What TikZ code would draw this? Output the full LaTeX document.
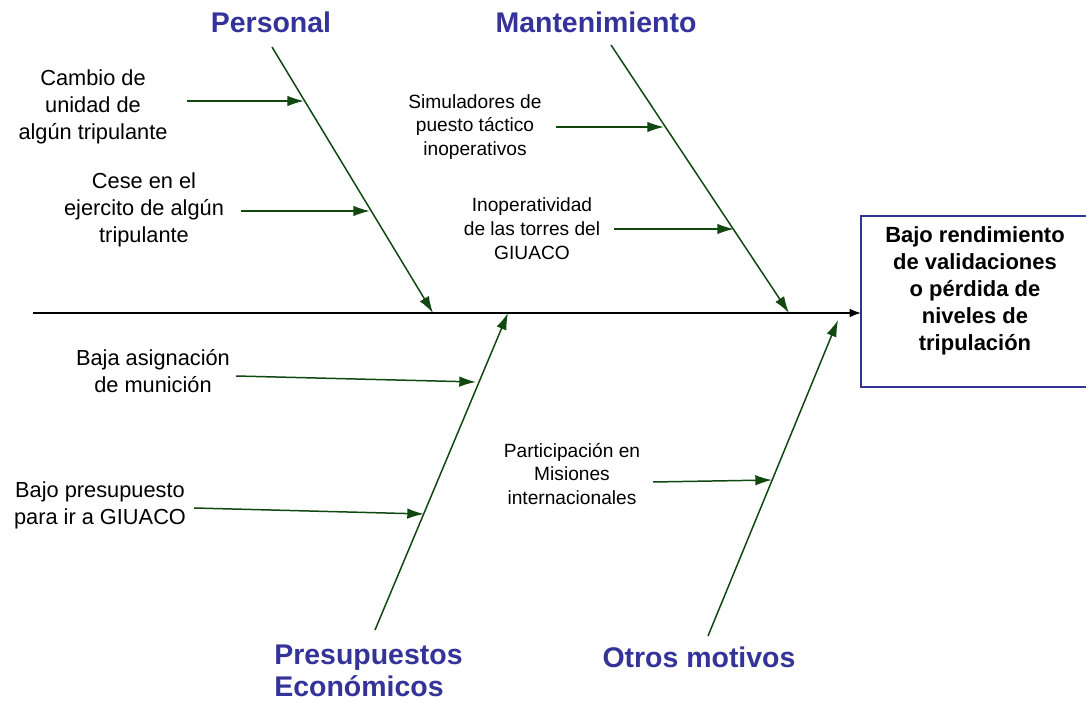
\documentclass[tikz,border=0pt]{standalone}
\usepackage{fontspec}
\setmainfont{Liberation Sans}
\usetikzlibrary{arrows.meta}
\definecolor{bonegreen}{RGB}{16,72,16}
\definecolor{labelblue}{RGB}{51,51,153}
\tikzset{
  bone/.style={draw=bonegreen, line width=0.85pt, -{Latex[length=9.5pt,width=6pt]}},
  sub/.style={draw=bonegreen, line width=0.85pt, -{Latex[length=9.5pt,width=6pt]}},
  spine/.style={draw=black, line width=0.9pt, -{Latex[length=6.5pt,width=5pt]}},
  cause/.style={align=center, inner sep=0pt, font=\fontsize{12.4pt}{15.3pt}\selectfont},
  smallcause/.style={align=center, inner sep=0pt, font=\fontsize{10.9pt}{13.6pt}\selectfont},
  cat/.style={inner sep=0pt, text=labelblue, font=\fontsize{16.2pt}{18pt}\selectfont\bfseries},
  effect/.style={align=center, inner sep=0pt, font=\fontsize{12.5pt}{15.3pt}\selectfont\bfseries}
}
\begin{document}
\begin{tikzpicture}[x=0.02cm,y=-0.02cm]
\useasboundingbox (0,0) rectangle (1086,702);
% effect box
\draw[labelblue, line width=1.3pt] (1095,216) -- (861,216) -- (861,387) -- (1095,387);
\node[effect] (effect) at (975,291) {Bajo rendimiento\\de validaciones\\ o pérdida de\\niveles de\\tripulación};
% spine
\coordinate (spineStart) at (33,313);
\coordinate (spineEnd) at (861,313);
\draw[spine] (spineStart) -- (spineEnd);
% category labels
\node[cat] (personal) at (271,22) {Personal};
\node[cat] (mant) at (596,22) {Mantenimiento};
\node[cat, align=left, anchor=west] (presu) at (274,671) {Presupuestos\\Económicos};
\node[cat] (otros) at (699,657) {Otros motivos};
% bones
\coordinate (bPs) at (272,47);   \coordinate (bPe) at (433,313);
\coordinate (bMs) at (611,45);   \coordinate (bMe) at (789,313);
\coordinate (bEs) at (375,630);  \coordinate (bEe) at (508,313);
\coordinate (bOs) at (708,636);  \coordinate (bOe) at (838,320);
\draw[bone] (bPs) -- (bPe);
\draw[bone] (bMs) -- (bMe);
\draw[bone] (bEs) -- (bEe);
\draw[bone] (bOs) -- (bOe);
% causes
\node[cause] (c1) at (93,107) {Cambio de\\unidad de\\algún tripulante};
\node[cause] (c2) at (144,210) {Cese en el\\ejercito de algún\\tripulante};
\node[smallcause] (c3) at (475,127) {Simuladores de\\puesto táctico\\inoperativos};
\node[smallcause] (c4) at (532,229) {Inoperatividad\\de las torres del\\GIUACO};
\node[cause] (c5) at (153,371) {Baja asignación\\de munición};
\node[cause] (c6) at (100,505) {Bajo presupuesto\\para ir a GIUACO};
\node[smallcause] (c7) at (572,474) {Participación en\\Misiones\\internacionales};
% cause arrows
\coordinate (a1s) at (187,101); \coordinate (a1e) at (304,101);
\coordinate (a2s) at (241,211); \coordinate (a2e) at (370,211);
\coordinate (a3s) at (556,127); \coordinate (a3e) at (664,127);
\coordinate (a4s) at (614,229); \coordinate (a4e) at (734,229);
\coordinate (a5s) at (236,376); \coordinate (a5e) at (476,382);
\coordinate (a6s) at (194,508); \coordinate (a6e) at (424,514);
\coordinate (a7s) at (653,482); \coordinate (a7e) at (772,480);
\draw[sub] (a1s) -- (a1e);
\draw[sub] (a2s) -- (a2e);
\draw[sub] (a3s) -- (a3e);
\draw[sub] (a4s) -- (a4e);
\draw[sub] (a5s) -- (a5e);
\draw[sub] (a6s) -- (a6e);
\draw[sub] (a7s) -- (a7e);
\end{tikzpicture}
\end{document}
